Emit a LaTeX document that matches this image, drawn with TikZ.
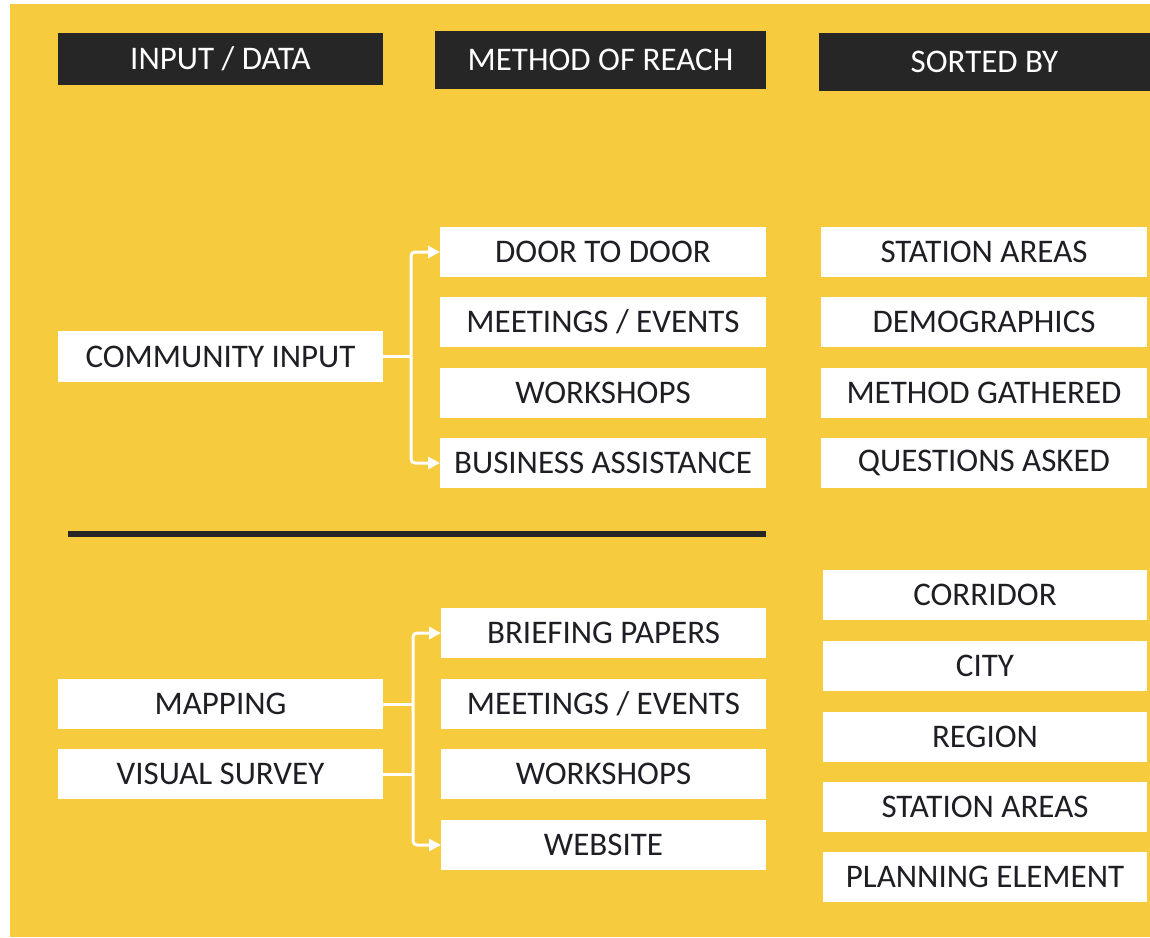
\documentclass[tikz,border=0pt]{standalone}
\usepackage{fontspec}
\setmainfont{Carlito}
\usetikzlibrary{arrows.meta}
\definecolor{bgyellow}{HTML}{F7CB3E}
\definecolor{darkbox}{HTML}{262626}
\definecolor{inktext}{HTML}{1E1E24}
\tikzset{
  txt/.style={font=\fontsize{33}{38}\selectfont, inner sep=0pt, outer sep=0pt},
  hbox/.style={txt, fill=darkbox, text=white, minimum width=331pt, minimum height=58pt},
  wbox/.style={txt, fill=white, text=inktext, minimum width=326pt, minimum height=50pt},
  wline/.style={draw=white, line width=3pt, rounded corners=4pt},
  warrow/.style={wline, -{Triangle[length=12pt,width=12pt]}},
}
\begin{document}
\begin{tikzpicture}[x=1pt,y=-1pt]
\useasboundingbox (0,0) rectangle (1150,937);
\fill[white] (0,0) rectangle (1150,937);
\fill[bgyellow] (10,4) rectangle (1150,937);
% headers
\node[hbox, minimum width=325pt, minimum height=52pt] (h1) at (220.5,59) {INPUT / DATA};
\node[hbox] (h2) at (600.5,60) {METHOD OF REACH};
\node[hbox] (h3) at (984.5,62) {SORTED BY};
% left column
\node[wbox, minimum width=325pt, minimum height=51pt] (ci) at (220.5,356.5) {COMMUNITY INPUT};
\node[wbox, minimum width=325pt] (mp) at (220.5,704) {MAPPING};
\node[wbox, minimum width=325pt] (vs) at (220.5,774) {VISUAL SURVEY};
% middle column top
\node[wbox] (m1) at (603,252) {DOOR TO DOOR};
\node[wbox] (m2) at (603,322) {MEETINGS / EVENTS};
\node[wbox] (m3) at (603,392.5) {WORKSHOPS};
\node[wbox] (m4) at (603,463) {BUSINESS ASSISTANCE};
% middle column bottom
\node[wbox, minimum width=325pt] (b1) at (603.5,633) {BRIEFING PAPERS};
\node[wbox, minimum width=325pt] (b2) at (603.5,704) {MEETINGS / EVENTS};
\node[wbox, minimum width=325pt] (b3) at (603.5,774) {WORKSHOPS};
\node[wbox, minimum width=325pt] (b4) at (603.5,845) {WEBSITE};
% right column top
\node[wbox] (s1) at (984,251.5) {STATION AREAS};
\node[wbox] (s2) at (984,322) {DEMOGRAPHICS};
\node[wbox] (s3) at (984,392.5) {METHOD GATHERED};
\node[wbox] (s4) at (984,463) {QUESTIONS ASKED};
% right column bottom
\node[wbox, minimum width=324pt] (r1) at (985,595) {CORRIDOR};
\node[wbox, minimum width=324pt] (r2) at (985,666) {CITY};
\node[wbox, minimum width=324pt] (r3) at (985,737) {REGION};
\node[wbox, minimum width=324pt] (r4) at (985,807) {STATION AREAS};
\node[wbox, minimum width=324pt] (r5) at (985,877) {PLANNING ELEMENT};
% divider
\coordinate (d1) at (68,534);
\coordinate (d2) at (766,534);
\draw[darkbox, line width=6pt] (d1) -- (d2);
% top connectors
\coordinate (j1) at (411,356.5);
\draw[wline] (ci.east) -- (j1);
\draw[warrow] (j1) |- (m1.west);
\draw[warrow] (j1) |- (m4.west);
% bottom connectors
\coordinate (j2) at (413,739);
\draw[wline] (mp.east) -- (mp.east -| j2);
\draw[wline] (vs.east) -- (vs.east -| j2);
\draw[warrow] (j2) |- (b1.west);
\draw[warrow] (j2) |- (b4.west);
\end{tikzpicture}
\end{document}
